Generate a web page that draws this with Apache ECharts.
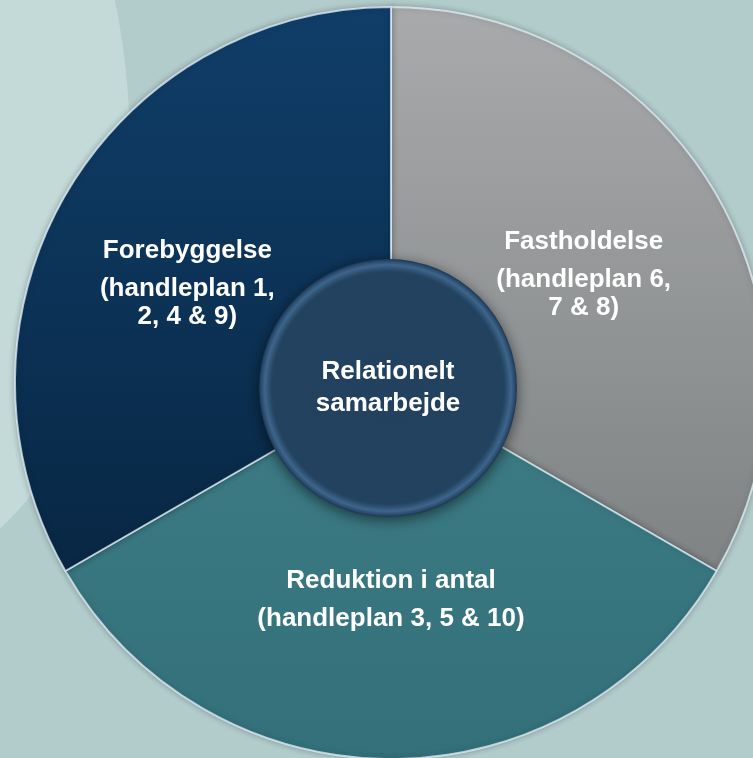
<!DOCTYPE html>
<html>
<head>
<meta charset="utf-8">
<script src="https://cdn.jsdelivr.net/npm/echarts@6/dist/echarts.min.js"></script>
<style>
html,body{margin:0;padding:0;background:#b2cbcb;}
#chart{width:753px;height:758px;}
</style>
</head>
<body>
<div id="chart"></div>
<script>
// Data
var categories = ['Fastholdelse', 'Reduktion i antal', 'Forebyggelse'];
var details = [['(handleplan 6,', '7 & 8)'], ['(handleplan 3, 5 & 10)'], ['(handleplan 1,', '2, 4 & 9)']];
var values = [1, 1, 1];
var centerLabel = ['Relationelt', 'samarbejde'];
var centerValue = [1];

var colors = [
  ['#a8aaab', '#808383'],
  ['#3c7b84', '#33707a'],
  ['#103e69', '#082744']
];
var labelOffsets = [[3, -4], [0, -7], [-14, 5]];

var chart = echarts.init(document.getElementById('chart'), null, {renderer: 'canvas'});

var FONT = 'Liberation Sans, Arial, sans-serif';

var pieData = categories.map(function (c, i) {
  return {
    name: c,
    value: values[i],
    itemStyle: {
      color: new echarts.graphic.LinearGradient(0, 0, 0, 1, [
        {offset: 0, color: colors[i][0]},
        {offset: 1, color: colors[i][1]}
      ])
    },
    label: {
      offset: labelOffsets[i],
      formatter: '{t|' + c + '}\n' + details[i].map(function (d) { return '{d|' + d + '}'; }).join('\n')
    }
  };
});

var option = {
  backgroundColor: '#b2cbcb',
  animation: false,
  graphic: [
    {
      type: 'circle',
      shape: {cx: 0, cy: 0, r: 100},
      position: [-100, 150],
      scaleX: 2.3,
      scaleY: 4.2,
      style: {fill: '#c3dad8'},
      z: -10
    }
  ],
  series: [
    {
      type: 'pie',
      center: [391, 383],
      radius: [56, 376],
      startAngle: 90,
      clockwise: true,
      silent: true,
      data: pieData,
      itemStyle: {
        borderColor: 'rgba(225,240,250,0.75)',
        borderWidth: 2,
        shadowBlur: 6,
        shadowColor: 'rgba(0,0,0,0.25)'
      },
      label: {
        show: true,
        position: 'inside',
        color: '#ffffff',
        fontFamily: FONT,
        fontWeight: 'bold',
        align: 'center',
        rich: {
          t: {fontSize: 26, lineHeight: 48, color: '#ffffff', fontWeight: 'bold', fontFamily: FONT},
          d: {fontSize: 26, lineHeight: 28, color: '#ffffff', fontWeight: 'bold', fontFamily: FONT}
        }
      },
      labelLine: {show: false}
    },
    {
      type: 'pie',
      center: [388, 388],
      radius: [0, 129],
      silent: true,
      z: 5,
      data: centerValue.map(function (v) {
        return {name: centerLabel.join('\n'), value: v};
      }),
      itemStyle: {
        color: new echarts.graphic.RadialGradient(0.5, 0.5, 0.5, [
          {offset: 0, color: '#21415f'},
          {offset: 0.9, color: '#22425f'},
          {offset: 0.955, color: '#3e658b'},
          {offset: 0.985, color: '#29496a'},
          {offset: 1, color: '#1b3552'}
        ]),
        shadowBlur: 14,
        shadowColor: 'rgba(0,0,0,0.55)',
        shadowOffsetY: 3
      },
      label: {
        show: true,
        position: 'center',
        color: '#ffffff',
        fontSize: 26,
        lineHeight: 32,
        fontWeight: 'bold',
        fontFamily: FONT
      },
      labelLine: {show: false}
    }
  ]
};
chart.setOption(option);
</script>
</body>
</html>
